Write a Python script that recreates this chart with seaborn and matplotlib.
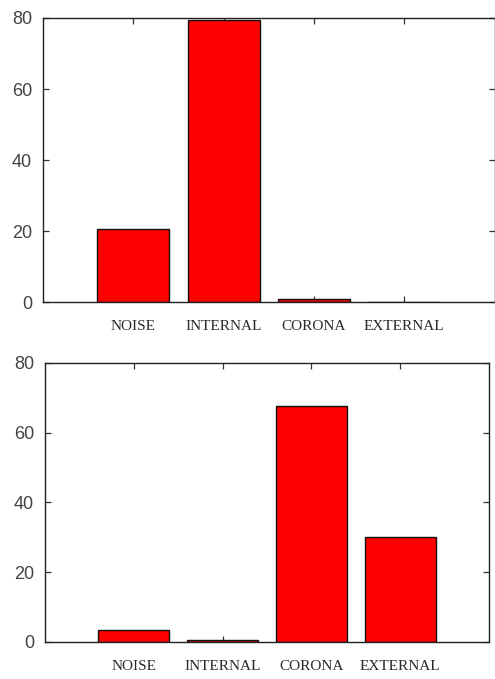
import pandas as pd
import matplotlib
matplotlib.use("Agg")
import matplotlib.pyplot as plt
import seaborn as sns

# === Data ===
categories = ["NOISE", "INTERNAL", "CORONA", "EXTERNAL"]
top_values = [20.5, 79.5, 1.0, 0.0]
bottom_values = [3.3, 0.6, 67.5, 30.2]
y_ticks = [0, 20, 40, 60, 80]

sns.set_style("ticks")

fig = plt.figure(figsize=(4.95, 6.79), dpi=100)

# axes rectangles (fig fractions)
ax_top = fig.add_axes([0.087, 0.555, 0.912, 0.4185])
ax_bot = fig.add_axes([0.091, 0.0545, 0.897, 0.4113])


def draw_panel(ax, values):
    df = pd.DataFrame({"cat": categories, "val": values})
    sns.barplot(data=df, x="cat", y="val", ax=ax, color="#ff0000",
                saturation=1, width=0.8, edgecolor="#111111",
                linewidth=1.0, errorbar=None)
    ax.set_xlim(-1, 4)
    ax.set_ylim(0, 80)
    ax.set_yticks(y_ticks)
    ax.set_xlabel("")
    ax.set_ylabel("")
    for s in ax.spines.values():
        s.set_visible(True)
        s.set_color("#222222")
        s.set_linewidth(1.0)
    ax.tick_params(axis="both", direction="in", top=True, right=True,
                   length=4, width=0.9, color="#333333")
    ax.tick_params(axis="y", labelsize=13, labelcolor="#444444", pad=8)
    ax.tick_params(axis="x", pad=13)
    for lbl in ax.get_yticklabels():
        lbl.set_family("Liberation Sans")
    for lbl in ax.get_xticklabels():
        lbl.set_family("Liberation Serif")
        lbl.set_fontsize(11)
        lbl.set_color("#2a2a2a")


draw_panel(ax_top, top_values)
draw_panel(ax_bot, bottom_values)

fig.savefig("out.png", dpi=100)
